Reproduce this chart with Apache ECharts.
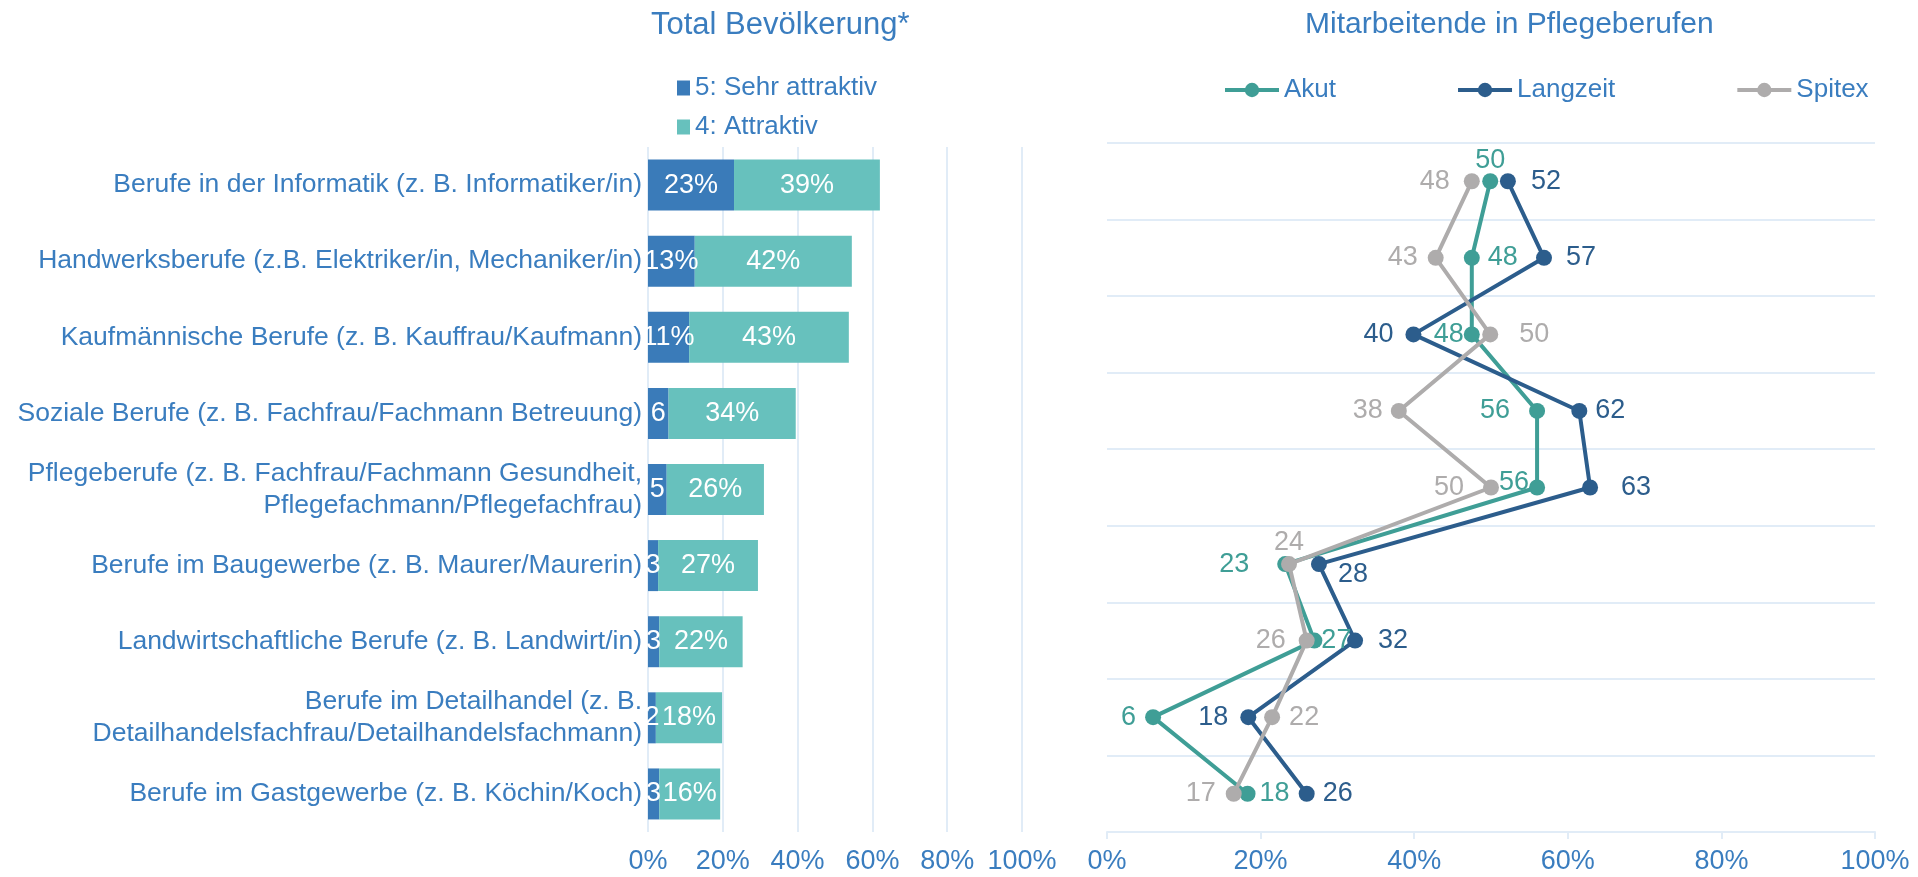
<!DOCTYPE html>
<html>
<head>
<meta charset="utf-8">
<title>Attraktivität Berufe</title>
<script src="https://cdn.jsdelivr.net/npm/echarts@6/dist/echarts.min.js"></script>
<style>
  html, body { margin: 0; padding: 0; background: #fff; }
  #chart { width: 1918px; height: 877px; }
</style>
</head>
<body>
<div id="chart"></div>
<script>
var blau = '#3A7DBF'
var gitter = '#E1ECF7'
var font = 'Liberation Sans, Arial, sans-serif'

var berufe = [
  'Berufe in der Informatik (z. B. Informatiker/in)',
  'Handwerksberufe (z.B. Elektriker/in, Mechaniker/in)',
  'Kaufmännische Berufe (z. B. Kauffrau/Kaufmann)',
  'Soziale Berufe (z. B. Fachfrau/Fachmann Betreuung)',
  'Pflegeberufe (z. B. Fachfrau/Fachmann Gesundheit,\nPflegefachmann/Pflegefachfrau)',
  'Berufe im Baugewerbe (z. B. Maurer/Maurerin)',
  'Landwirtschaftliche Berufe (z. B. Landwirt/in)',
  'Berufe im Detailhandel (z. B.\nDetailhandelsfachfrau/Detailhandelsfachmann)',
  'Berufe im Gastgewerbe (z. B. Köchin/Koch)'
]

// Total Bevölkerung, Anteil in %
var sehrAttraktiv = [23, 12.5, 11, 5.5, 5, 2.7, 3, 2.1, 3]
var attraktiv = [39, 42, 42.7, 34, 26, 26.7, 22.3, 17.7, 16.3]

// Mitarbeitende in Pflegeberufen
var akut = [49.9, 47.5, 47.5, 56, 56, 23.2, 27, 6, 18.3]
var langzeit = [52.2, 56.9, 39.9, 61.5, 62.9, 27.6, 32.3, 18.4, 26]
var spitex = [47.5, 42.8, 49.9, 38, 50, 23.7, 26, 21.5, 16.5]

// Position der Datenbeschriftungen [position, abstand, offsetY]
var akutLbl = [['top', -1], ['right', 8], ['left', 0], ['left', 19], ['left', 0, -5], ['left', 28], ['right', -1], ['left', 9], ['right', 4]]
var langLbl = [['right', 15], ['right', 14], ['left', 12], ['right', 8], ['right', 23], ['right', 11, 10], ['right', 15], ['left', 12], ['right', 8]]
var spitexLbl = [['left', 14], ['left', 10], ['right', 21], ['left', 8], ['left', 19], ['top', 0], ['left', 13], ['right', 9], ['left', 10]]

function punkte(werte, lbl) {
  return werte.map(function(v, i) {
    return {
      value: v,
      label: { position: lbl[i][0], distance: lbl[i][1], offset: [0, lbl[i][2] || 0] }
    }
  })
}

function linie(name, farbe, werte, lbl) {
  return {
    name: name,
    type: 'line',
    xAxisIndex: 1,
    yAxisIndex: 1,
    symbol: 'circle',
    symbolSize: 16,
    itemStyle: { color: farbe },
    lineStyle: { color: farbe, width: 4 },
    label: {
      show: true,
      color: farbe,
      fontSize: 27,
      fontFamily: font,
      formatter: function(p) { return Math.round(p.value) }
    },
    data: punkte(werte, lbl)
  }
}

var chart = echarts.init(document.getElementById('chart'))
chart.setOption({
  animation: false,
  textStyle: { fontFamily: font },
  title: [
    {
      text: 'Total Bevölkerung*',
      left: 646,
      top: 5,
      textStyle: { color: blau, fontSize: 31, fontWeight: 'normal', fontFamily: font }
    },
    {
      text: 'Mitarbeitende in Pflegeberufen',
      left: 1300,
      top: 5,
      textStyle: { color: blau, fontSize: 30, fontWeight: 'normal', fontFamily: font }
    }
  ],
  legend: [
    {
      data: ['5: Sehr attraktiv', '4: Attraktiv'],
      orient: 'vertical',
      left: 672,
      top: 70,
      icon: 'rect',
      itemWidth: 13,
      itemHeight: 15,
      itemGap: 13,
      textStyle: { color: blau, fontSize: 26, fontFamily: font }
    },
    {
      data: ['Akut', 'Langzeit', 'Spitex'],
      left: 1218,
      top: 72,
      itemWidth: 54,
      itemHeight: 18,
      itemGap: 120,
      lineStyle: { width: 4 },
      textStyle: { color: blau, fontSize: 26, fontFamily: font }
    }
  ],
  grid: [
    { left: 648, top: 147, width: 374, height: 685 },
    { left: 1107, top: 143, width: 768, height: 689 }
  ],
  xAxis: [
    {
      gridIndex: 0,
      type: 'value',
      min: 0,
      max: 100,
      interval: 20,
      axisLine: { show: false },
      axisTick: { show: false },
      axisLabel: { formatter: '{value}%', color: blau, fontSize: 27, margin: 16 },
      splitLine: { lineStyle: { color: gitter, width: 2 } }
    },
    {
      gridIndex: 1,
      type: 'value',
      min: 0,
      max: 100,
      interval: 20,
      axisLine: { show: true, lineStyle: { color: gitter, width: 2 } },
      axisTick: { show: true, length: 7, lineStyle: { color: gitter, width: 2 } },
      axisLabel: { formatter: '{value}%', color: blau, fontSize: 27, margin: 16 },
      splitLine: { show: false }
    }
  ],
  yAxis: [
    {
      gridIndex: 0,
      type: 'category',
      inverse: true,
      data: berufe,
      axisLine: { show: false },
      axisTick: { show: false },
      axisLabel: { color: blau, fontSize: 26.5, margin: 6, lineHeight: 32, align: 'right' }
    },
    {
      gridIndex: 1,
      type: 'category',
      inverse: true,
      data: berufe,
      axisLine: { show: false },
      axisTick: { show: false },
      axisLabel: { show: false },
      splitLine: { show: true, lineStyle: { color: gitter, width: 2 } }
    }
  ],
  series: [
    {
      name: '5: Sehr attraktiv',
      type: 'bar',
      stack: 'total',
      barCategoryGap: '33%',
      itemStyle: { color: '#3A7BB9' },
      label: {
        show: true,
        position: 'inside',
        color: '#fff',
        fontSize: 27,
        formatter: function(p) { return p.value >= 10 ? Math.round(p.value) + '%' : Math.round(p.value) }
      },
      data: sehrAttraktiv
    },
    {
      name: '4: Attraktiv',
      type: 'bar',
      stack: 'total',
      barCategoryGap: '33%',
      itemStyle: { color: '#67C1BD' },
      label: {
        show: true,
        position: 'inside',
        color: '#fff',
        fontSize: 27,
        formatter: function(p) { return Math.round(p.value) + '%' }
      },
      data: attraktiv
    },
    linie('Akut', '#3F9E96', akut, akutLbl),
    linie('Langzeit', '#2C5D8C', langzeit, langLbl),
    linie('Spitex', '#AEACAC', spitex, spitexLbl)
  ]
})
</script>
</body>
</html>
